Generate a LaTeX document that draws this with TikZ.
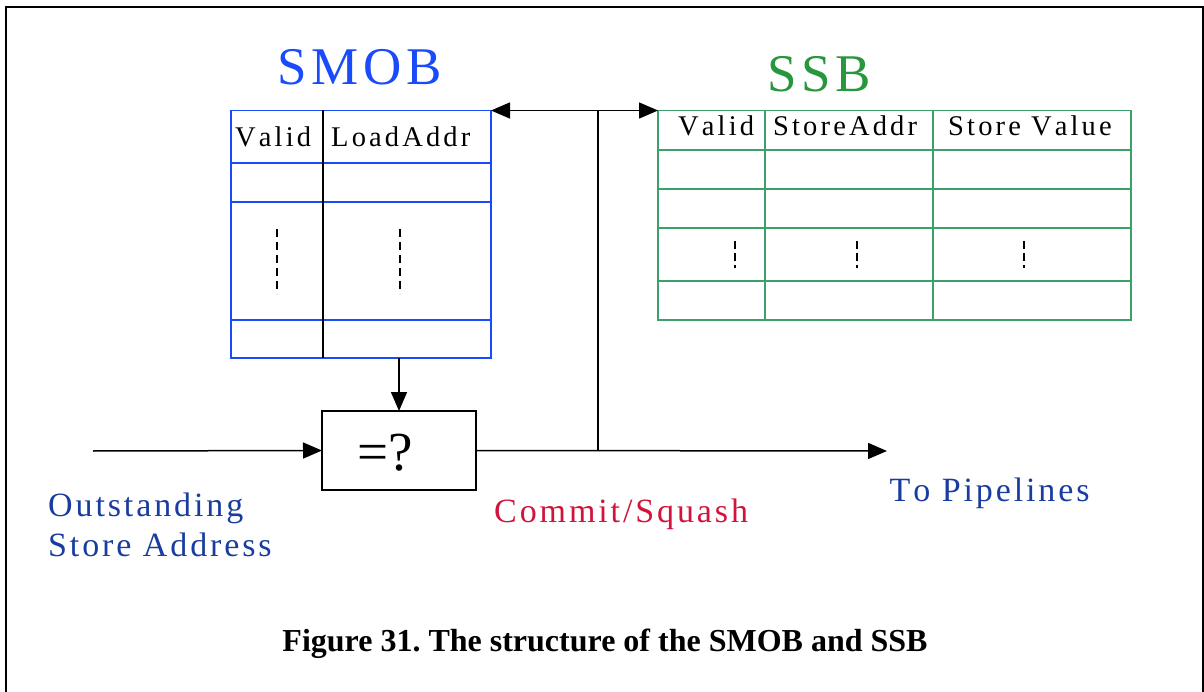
\documentclass[tikz,border=0pt]{standalone}
\usepackage{fontspec}
\setmainfont{Liberation Serif}
\usetikzlibrary{arrows.meta}
\definecolor{smobblue}{RGB}{25,75,250}
\definecolor{ssbgreen}{RGB}{40,150,60}
\definecolor{ssbline}{RGB}{60,160,105}
\definecolor{lblblue}{RGB}{25,60,160}
\definecolor{lblred}{RGB}{210,20,60}
\makeatletter
\newlength\lsk
\newcommand\lsw[1]{\@tfor\lsc:=#1\do{\lsc\kern\lsk}\unkern}
\def\lsp#1{\lsp@i#1 \@nil}
\def\lsp@i#1 #2\@nil{\lsw{#1}\ifx\relax#2\relax\else\kern\lsk\space\lsp@i#2\@nil\fi}
\makeatother
\tikzset{
  tip/.tip={Triangle[length=19pt,width=16pt]},
  conn/.style={line width=1.5pt,-tip},
  dblconn/.style={line width=1.5pt,tip-tip},
  plain/.style={line width=1.5pt},
  smobtab/.style={draw=smobblue,line width=1.5pt,rectangle,inner sep=0pt,outer sep=0pt},
  ssbtab/.style={draw=ssbline,line width=1.5pt,rectangle,inner sep=0pt,outer sep=0pt},
  cmpbox/.style={draw,line width=1.5pt,rectangle,inner sep=0pt,outer sep=0pt,minimum width=154pt,minimum height=79pt},
  hdr/.style={inner sep=0pt,anchor=base west,font=\fontsize{28.5}{32}\selectfont\setlength\lsk{0.11em}},
  lbl/.style={inner sep=0pt,anchor=base west,font=\fontsize{34}{38}\selectfont\setlength\lsk{0.085em}},
  ttl/.style={inner sep=0pt,anchor=base west,font=\fontsize{53}{60}\selectfont\setlength\lsk{0.09em}},
  dots/.style={line width=1.3pt,dash pattern=on 8pt off 5pt},
}
\begin{document}
\begin{tikzpicture}[x=1pt,y=-1pt]
\useasboundingbox (0,0) rectangle (1204,692);
% frame
\draw[line width=2pt] (6,692) -- (6,7) -- (1203,7) -- (1203,692);

% SMOB table
\node[smobtab,minimum width=260pt,minimum height=247.5pt] (smob) at (361,234.25) {};
\draw[smobblue,line width=1.5pt] (231,163) -- (491,163);
\draw[smobblue,line width=1.5pt] (231,202) -- (491,202);
\draw[smobblue,line width=1.5pt] (231,320) -- (491,320);
\draw[plain] (323,110.5) -- (323,358);
\draw[dots] (277,229) -- (277,294);
\draw[dots] (400,229) -- (400,294);
\node[hdr] (h1) at (235,146.7) {\lsp{Valid}};
\node[hdr] (h2) at (331,146.7) {\lsp{LoadAddr}};
\node[ttl,text=smobblue] (t1) at (277,85) {\lsp{SMOB}};

% SSB table
\node[ssbtab,minimum width=473pt,minimum height=209.5pt] (ssb) at (894.5,215.25) {};
\foreach \yy in {150,189,228,281} \draw[ssbline,line width=1.5pt] (658,\yy) -- (1131,\yy);
\draw[ssbline,line width=1.5pt] (765,110.5) -- (765,320);
\draw[ssbline,line width=1.5pt] (933,110.5) -- (933,320);
\draw[dots,dash pattern=on 8pt off 4pt] (735,241) -- (735,268);
\draw[dots,dash pattern=on 8pt off 4pt] (857,241) -- (857,268);
\draw[dots,dash pattern=on 8pt off 4pt] (1024,241) -- (1024,268);
\node[hdr] (s1) at (678,135.7) {\lsp{Valid}};
\node[hdr] (s2) at (773,135.7) {\lsp{StoreAddr}};
\node[hdr] (s3) at (948,135.7) {\lsp{Store Value}};
\node[ttl,text=ssbgreen] (t2) at (767,91.5) {\lsp{SSB}};

% comparator
\node[cmpbox] (cmp) at (399,450.5) {};
\node[inner sep=0pt,anchor=base west,font=\fontsize{55}{60}\selectfont] (eq) at (357,470) {=?};

% connectors
\coordinate (inS) at (93,451);
\coordinate (outE) at (887,451);
\coordinate (j) at (598,451);
\draw[conn] (inS) -- (cmp.west);
\draw[conn] (cmp.north |- smob.south) -- (cmp.north);
\draw[conn] (cmp.east) -- (outE);
\draw[plain] (j) -- (j |- ssb.north);
\draw[dblconn] (smob.north east) -- (ssb.north west);

% labels
\node[lbl,text=lblblue] (l1) at (48,516) {\lsp{Outstanding}};
\node[lbl,text=lblblue] (l2) at (48,556) {\lsp{Store Address}};
\node[lbl,text=lblred] (l3) at (494,522.5) {\lsp{Commit/Squash}};
\node[lbl,text=lblblue] (l4) at (889.5,501.5) {\lsp{To Pipelines}};

% caption
\node[inner sep=0pt,anchor=base,font=\bfseries\fontsize{32}{36}\selectfont] (cap) at (605,651) {\frenchspacing Figure 31. The structure of the SMOB and SSB};
\end{tikzpicture}
\end{document}
